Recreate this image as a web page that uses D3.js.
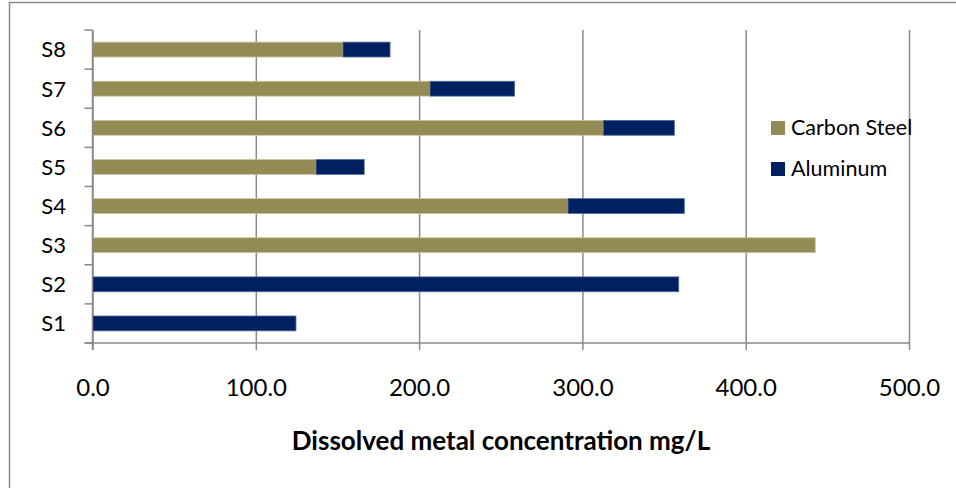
<!DOCTYPE html>
<html>
<head>
<meta charset="utf-8">
<script src="https://cdn.jsdelivr.net/npm/d3@7"></script>
<style>
  body { margin: 0; background: #fff; }
  svg { display: block; font-family: Lato, "Noto Sans", sans-serif; }
</style>
</head>
<body>
<svg></svg>
<script>
// data
let sites = ['S1', 'S2', 'S3', 'S4', 'S5', 'S6', 'S7', 'S8']
let carbonSteel = [0, 0, 442.6, 291.2, 136.9, 312.8, 206.7, 153.4]
let aluminum = [124.6, 359.0, 0, 71.2, 29.5, 43.5, 51.8, 28.8]
let seriesNames = ['Carbon Steel', 'Aluminum']
let seriesColors = ['#948a54', '#002060']
let edgeColors = ['#c9c29f', '#4f6a9c']
let xTicks = [0, 100, 200, 300, 400, 500]
let xTitle = 'Dissolved metal concentration mg/L'

let width = 956
let height = 488
let plotLeft = 92.5
let plotRight = 909
let plotTop = 30
let plotBottom = 343
let grey = '#8a8a8a'

let svg = d3.select('svg')
    .attr('width', width)
    .attr('height', height)

// outer chart frame (only top and left edges visible)
svg.append('line')
    .attr('x1', 9.5).attr('x2', 9.5).attr('y1', 2).attr('y2', height)
    .attr('stroke', grey).attr('stroke-width', 1.5)
svg.append('line')
    .attr('x1', 9).attr('x2', width).attr('y1', 2.5).attr('y2', 2.5)
    .attr('stroke', grey).attr('stroke-width', 1.5)

let xScale = d3.scaleLinear()
    .domain([0, 500])
    .range([plotLeft, plotRight])

let yScale = d3.scaleBand()
    .domain(sites)
    .range([plotBottom, plotTop])
    .paddingInner(0.62)
    .paddingOuter(0.31)

let rows = sites.map((s, i) => {
    return { site: s, 'Carbon Steel': carbonSteel[i], 'Aluminum': aluminum[i] }
})
let stacked = d3.stack().keys(seriesNames)(rows)

// gridlines + x axis
let xAxis = d3.axisBottom(xScale)
    .tickValues(xTicks)
    .tickFormat(d3.format('.1f'))
    .tickSize(-(plotBottom - plotTop))
    .tickPadding(0)

let gx = svg.append('g')
    .attr('transform', 'translate(0,' + plotBottom + ')')
    .call(xAxis)
gx.select('.domain').remove()
gx.selectAll('.tick line')
    .attr('y2', 7)
    .attr('y1', -(plotBottom - plotTop))
    .attr('stroke', grey)
    .attr('stroke-width', 1.5)
gx.selectAll('.tick text')
    .attr('y', 53)
    .attr('dy', 0)
    .attr('fill', '#000')
    .style('font-family', 'Lato, "Noto Sans", sans-serif')
    .style('font-size', '24px')

// bars
svg.append('g')
    .selectAll('g')
    .data(stacked)
    .enter()
    .append('g')
    .attr('fill', (d, i) => seriesColors[i])
    .attr('stroke', (d, i) => edgeColors[i])
    .attr('stroke-width', 0.8)
    .selectAll('rect')
    .data(d => d.filter(p => p[1] - p[0] > 0))
    .enter()
    .append('rect')
    .attr('x', d => xScale(d[0]))
    .attr('width', d => xScale(d[1]) - xScale(d[0]))
    .attr('y', d => yScale(d.data.site))
    .attr('height', yScale.bandwidth())

// y axis line and boundary ticks
svg.append('line')
    .attr('x1', plotLeft).attr('x2', plotLeft).attr('y1', plotTop).attr('y2', plotBottom + 7)
    .attr('stroke', grey).attr('stroke-width', 1.5)
svg.append('line')
    .attr('x1', plotLeft - 8).attr('x2', plotRight).attr('y1', plotBottom).attr('y2', plotBottom)
    .attr('stroke', grey).attr('stroke-width', 1.5)

let step = yScale.step()
svg.append('g')
    .selectAll('line')
    .data(d3.range(sites.length + 1))
    .enter()
    .append('line')
    .attr('x1', plotLeft - 8).attr('x2', plotLeft)
    .attr('y1', i => plotBottom - i * step)
    .attr('y2', i => plotBottom - i * step)
    .attr('stroke', grey).attr('stroke-width', 1.5)

// category labels
svg.append('g')
    .selectAll('text')
    .data(sites)
    .enter()
    .append('text')
    .attr('x', 66)
    .attr('y', d => yScale(d) + yScale.bandwidth() / 2)
    .attr('dy', '0.36em')
    .attr('text-anchor', 'end')
    .style('font-size', '22px')
    .text(d => d)

// axis title
svg.append('text')
    .attr('x', 501)
    .attr('y', 450)
    .attr('text-anchor', 'middle')
    .style('font-size', '26px')
    .style('font-weight', 'bold')
    .text(xTitle)

// legend
let legend = svg.append('g')
    .selectAll('g')
    .data(seriesNames)
    .enter()
    .append('g')
    .attr('transform', (d, i) => 'translate(771,' + (121 + i * 41) + ')')
legend.append('rect')
    .attr('width', 14).attr('height', 14)
    .attr('fill', (d, i) => seriesColors[i])
legend.append('text')
    .attr('x', 20)
    .attr('y', 14)
    .style('font-size', '21.5px')
    .text(d => d)
</script>
</body>
</html>
